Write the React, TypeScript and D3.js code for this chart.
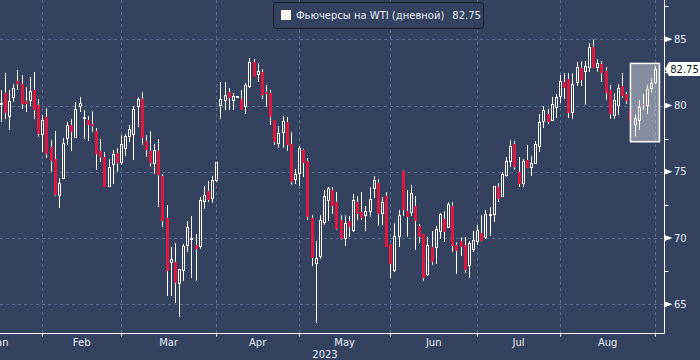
import React from "react";
import * as d3 from "d3";

// ---- data ----
const opens = [80.1,80.98,79.14,80.58,81.84,81.66,80.32,80.4,81.21,80.07,77.85,79.14,76.87,75.93,73.2,74.47,77.5,78.51,77.62,79.9,79.08,78.89,78.58,78.05,76.56,76.11,73.89,75.58,76.44,75.73,76.79,77.7,77.85,79.9,80.53,77.35,76.54,75.6,76.59,74.72,71.54,68.15,68.2,66.59,67.57,69.47,69.9,69.47,69.37,72.77,73.58,72.95,74.34,80.02,80.4,81.06,80.35,80.65,80.53,79.9,81.41,83.26,82.37,82.5,81.01,80.91,78.89,77.12,77.93,78.74,77.07,74.39,74.9,76.66,75.78,71.51,68.08,68.61,71.18,72.8,73.59,72.75,71.37,70.0,71.31,70.56,72.75,71.95,71.69,72.02,73.71,74.19,71.82,73.21,69.55,67.53,70.1,75.03,72.02,71.95,72.45,70.94,70.3,67.27,69.35,69.29,70.5,71.43,70.8,72.45,69.49,69.79,69.49,67.9,69.16,69.74,70.4,70.05,71.69,71.81,73.88,73.13,74.72,75.8,77.12,75.02,74.14,75.86,75.3,75.65,76.92,78.83,79.34,78.88,79.84,80.7,81.79,82.04,79.44,81.71,82.87,82.54,82.87,84.39,82.87,83.12,82.62,81.21,79.26,80.02,81.46,80.85,79.64,78.58,78.89,80.1,80.02,81.29,81.71];
const highs = [81.2,82.42,81.16,81.66,82.67,82.29,81.41,82.17,82.5,80.53,79.26,79.82,77.37,78.05,74.52,77.55,78.76,79.01,80.27,80.65,79.64,79.19,79.57,78.3,77.5,76.49,75.98,76.61,76.79,77.8,77.88,78.56,79.97,80.65,81.03,77.75,78.05,77.12,77.5,74.85,72.52,69.34,69.62,67.7,69.54,71.31,71.69,70.3,73.08,73.96,74.34,74.67,75.7,81.74,81.79,81.29,80.96,80.7,81.21,81.67,83.56,83.48,83.18,82.75,81.54,81.21,78.89,78.43,79.19,79.14,78.0,75.22,76.92,76.7,76.06,71.77,69.8,71.77,73.63,73.84,73.89,73.46,71.74,71.77,71.69,73.33,73.21,73.46,72.45,73.84,74.72,74.47,73.08,73.46,69.55,71.11,72.12,75.1,73.64,73.97,73.21,71.06,70.3,70.1,70.5,70.94,71.86,72.07,72.7,72.7,69.67,70.1,70.1,69.79,70.55,71.01,71.76,72.12,72.32,73.88,74.14,74.97,76.11,77.37,77.32,76.11,75.96,77.0,76.16,77.32,79.34,79.95,79.77,80.65,80.85,82.29,82.42,82.47,82.42,83.3,83.38,83.38,84.74,84.99,83.55,83.38,82.92,81.54,80.95,81.61,82.47,81.03,79.7,79.39,80.45,80.9,81.54,82.05,82.98];
const lows = [78.76,79.01,78.13,80.27,81.16,79.72,79.52,79.97,79.01,77.62,76.49,76.03,74.97,73.15,72.24,74.42,77.04,76.54,77.55,79.51,77.5,77.3,78.0,75.1,75.73,73.83,73.83,74.09,75.02,75.53,76.16,77.24,75.86,78.38,77.04,76.11,75.4,74.8,72.32,70.8,65.63,65.63,65.12,64.06,66.76,68.91,67.02,66.76,69.16,72.19,72.75,72.62,74.2,79.01,79.64,79.7,79.64,80.6,79.64,79.39,81.29,82.17,81.77,80.48,79.9,78.51,77.0,76.79,76.79,76.54,74.01,74.09,73.96,74.6,71.39,67.9,63.6,68.4,71.0,71.26,71.82,70.61,69.85,69.42,70.1,70.43,71.37,71.37,70.56,71.62,73.03,70.94,71.01,69.35,67.02,67.45,69.3,71.69,70.1,71.69,69.09,69.6,66.77,67.15,67.98,68.03,69.92,69.67,70.8,68.91,67.32,68.66,67.4,67.02,68.91,69.49,69.67,69.92,70.17,71.18,72.7,73.08,74.59,75.35,75.1,73.84,73.88,75.27,74.72,75.6,76.49,78.33,78.63,78.83,79.08,80.2,80.52,79.08,79.01,81.46,81.46,80.02,82.54,82.8,82.54,81.79,80.4,79.01,79.01,79.26,80.6,80.1,78.8,77.62,78.18,79.64,79.39,80.95,81.61];
const closes = [80.15,79.47,80.27,81.28,81.61,80.15,80.12,81.08,79.69,77.83,78.89,76.31,75.81,73.28,74.14,77.12,78.51,78.0,79.72,80.15,79.12,78.51,78.43,76.31,76.11,73.89,75.35,76.28,75.68,77.04,77.65,78.2,79.72,80.48,77.55,76.61,75.65,76.64,74.77,71.26,67.52,68.36,66.61,67.6,69.34,70.83,69.95,69.21,72.83,73.2,72.9,74.34,75.68,80.45,80.76,80.58,80.65,80.66,79.7,81.54,83.26,82.17,82.57,80.81,80.88,79.14,77.25,77.88,78.81,76.99,74.22,74.77,76.74,75.65,71.56,68.53,68.48,71.31,73.13,73.76,72.45,70.68,69.93,71.11,70.81,72.83,71.82,71.52,72.02,72.88,74.34,71.82,72.65,69.35,68.03,70.1,71.69,72.12,71.62,73.33,71.26,70.1,67.02,69.42,68.16,70.61,71.76,70.43,72.52,69.42,69.04,69.29,67.57,69.59,69.84,70.6,69.74,71.76,71.76,73.88,72.95,74.79,75.78,76.92,75.35,74.09,75.78,75.27,75.6,77.07,78.73,79.64,78.76,80.09,80.6,81.79,81.36,79.44,81.61,82.87,81.91,82.97,84.39,82.87,83.17,82.47,80.95,79.39,80.35,81.28,80.7,80.32,78.83,79.02,79.85,80.05,81.21,81.67,82.75];

const monthLabels = ["Jan", "Feb", "Mar", "Apr", "May", "Jun", "Jul", "Aug"];
const monthStartIndex = [-10, 10, 29, 52, 72, 94, 115, 135, 158];
const yearLabel = "2023";
const yMajorTicks = [65, 70, 75, 80, 85];
const yMinorTicks = [67.5, 72.5, 77.5, 82.5, 87.5];
const legendName = "Фьючерсы на WTI (дневной)";
const lastPrice = 82.75;
const highlightRange = [152, 159];
const highlightValues = [77.27, 83.18];

// ---- styling ----
const W = 700, H = 360;
const BG = "#344260";
const GRID = "#5a6d93";
const RED = "#e0173e";
const TEXT = "#e4ebf6";
const FONT = "DejaVu Sans, Verdana, sans-serif";
const PLOT_R = 664.5;
const PLOT_B = 333.5;

export default function App() {
  const n = closes.length;
  const x = d3.scaleLinear().domain([0, n - 1]).range([0.88, 655.3]);
  const y = d3.scaleLinear().domain([65, 85]).range([304.3, 39.3]);

  const candles = d3.range(n).map((i) => {
    const cx = Math.round(x(i)) + 0.5;
    const o = opens[i], c = closes[i];
    const up = c >= o;
    const top = y(Math.max(o, c));
    const bot = y(Math.min(o, c));
    return { i, cx, up, top, bot, hy: y(highs[i]), ly: y(lows[i]) };
  });

  const hx0 = x(highlightRange[0]);
  const hx1 = x(highlightRange[1]);
  const hy0 = y(highlightValues[1]);
  const hy1 = y(highlightValues[0]);
  const ly = y(lastPrice);

  return (
    <svg width={W} height={H} style={{ position: "absolute", left: 0, top: 0, display: "block" }}
      fontFamily={FONT}>
      <rect x={0} y={0} width={W} height={H} fill={BG} />
      {/* grid */}
      <g stroke={GRID} strokeWidth={1} strokeDasharray="3,3" shapeRendering="crispEdges">
        {yMajorTicks.map((t) => (
          <line key={"h" + t} x1={0} x2={PLOT_R} y1={Math.round(y(t)) + 0.5} y2={Math.round(y(t)) + 0.5} />
        ))}
        {monthStartIndex.filter((m) => m >= 0).map((m) => (
          <line key={"v" + m} x1={Math.round(x(m)) + 0.5} x2={Math.round(x(m)) + 0.5} y1={0} y2={PLOT_B} />
        ))}
      </g>
      {/* candles */}
      <g shapeRendering="crispEdges">
        {candles.map((d) => (
          <g key={d.i}>
            <line x1={d.cx} x2={d.cx} y1={d.hy} y2={d.ly} stroke="#ffffff" strokeWidth={1} />
            {d.up ? (
              <rect x={d.cx - 1} y={d.top} width={2} height={Math.max(d.bot - d.top, 1)}
                fill={BG} stroke="#ffffff" strokeWidth={1} />
            ) : (
              <rect x={d.cx - 1.5} y={d.top} width={3} height={Math.max(d.bot - d.top, 1.2)} fill={RED} />
            )}
          </g>
        ))}
      </g>
      {/* highlight box */}
      <rect x={hx0} y={hy0} width={hx1 - hx0} height={hy1 - hy0}
        fill="#ffffff" fillOpacity={0.4} stroke="#ffffff" strokeWidth={1.5} />
      {/* axes */}
      <line x1={PLOT_R} x2={PLOT_R} y1={0} y2={PLOT_B} stroke="#ffffff" strokeWidth={1} />
      <line x1={0} x2={PLOT_R} y1={PLOT_B} y2={PLOT_B} stroke="#ffffff" strokeWidth={1} />
      {monthStartIndex.filter((m) => m >= 0).map((m) => (
        <line key={"t" + m} x1={Math.round(x(m)) + 0.5} x2={Math.round(x(m)) + 0.5}
          y1={PLOT_B} y2={PLOT_B + 3} stroke="#ffffff" strokeWidth={1} />
      ))}
      {monthLabels.map((lab, k) => (
        <text key={lab} x={(x(monthStartIndex[k]) + x(monthStartIndex[k + 1])) / 2} y={345.5}
          textAnchor="middle" fontSize={10} fill={TEXT}>{lab}</text>
      ))}
      <text x={325} y={358} textAnchor="middle" fontSize={10} fill={TEXT}>{yearLabel}</text>
      {yMinorTicks.map((t) => (
        <line key={"m" + t} x1={PLOT_R} x2={PLOT_R + 4} y1={Math.round(y(t)) + 0.5} y2={Math.round(y(t)) + 0.5}
          stroke="#ffffff" strokeWidth={1} />
      ))}
      {yMajorTicks.map((t) => (
        <g key={"y" + t}>
          <polygon points={`${PLOT_R},${y(t) - 3} ${PLOT_R + 8},${y(t)} ${PLOT_R},${y(t) + 3}`} fill="#ffffff" />
          <text x={674} y={y(t)} dy="0.35em" fontSize={10} fill={TEXT}>{t}</text>
        </g>
      ))}
      {/* last price tag */}
      <polygon points={`${PLOT_R + 0.5},${ly} ${PLOT_R + 4.5},${ly - 7} ${W},${ly - 7} ${W},${ly + 7} ${PLOT_R + 4.5},${ly + 7}`}
        fill="#ffffff" />
      <text x={684.5} y={ly} dy="0.35em" textAnchor="middle" fontSize={10} fill="#111111">{lastPrice.toFixed(2)}</text>
      {/* legend */}
      <rect x={273.5} y={2.5} width={210} height={26} rx={3} fill={BG} stroke="#151b28" strokeWidth={1} />
      <rect x={281} y={10} width={10} height={10} fill="#fdf3f0" />
      <text x={296} y={19} fontSize={10} fill={TEXT}>
        {legendName}
        <tspan dx={8}>{lastPrice.toFixed(2)}</tspan>
      </text>
    </svg>
  );
}
